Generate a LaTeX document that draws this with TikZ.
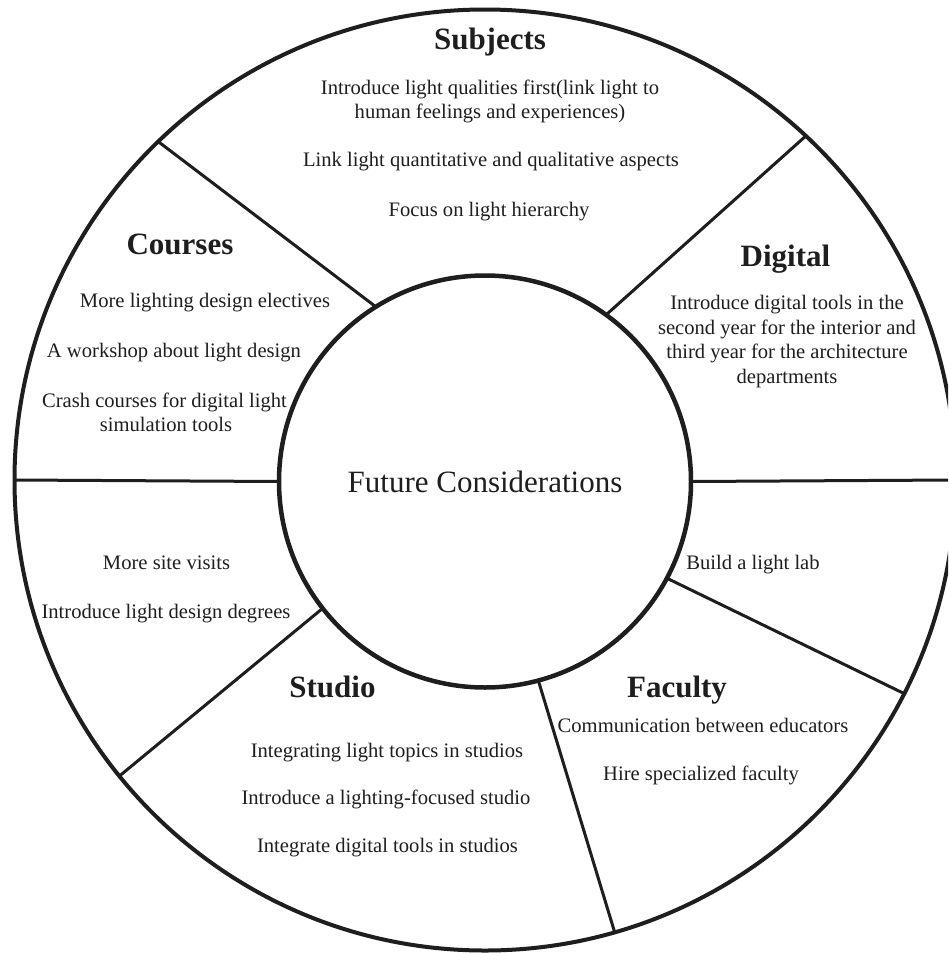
\documentclass[tikz,border=0pt]{standalone}
\usepackage{fontspec}
\setmainfont{Liberation Serif}
\definecolor{ink}{HTML}{1E1E1E}
\newcommand{\bodysize}{\fontsize{20.6}{24.5}\selectfont}
\newcommand{\headsize}{\fontsize{31}{36}\selectfont\bfseries}
\newcommand{\hubsize}{\fontsize{31}{36}\selectfont}
\begin{document}
\begin{tikzpicture}[x=1pt,y=-1pt,
  ring/.style={circle, draw=ink, outer sep=0pt, inner sep=0pt},
  divider/.style={draw=ink, line width=3pt},
  item/.style={anchor=base, inner sep=0pt, text=ink, font=\bodysize},
  heading/.style={anchor=base, inner sep=0pt, text=ink, font=\headsize}]
\useasboundingbox (0,0) rectangle (948,953);
\fill[white] (0,0) rectangle (948,953);
\clip (0,0) rectangle (948,953);

% outer rim and central hub
\node[ring, line width=4pt, minimum size=941pt] (rim) at (485,480) {};
\node[ring, line width=4.5pt, minimum size=412pt, font=\hubsize, text=ink] (hub) at (485,481.5) {Future Considerations};

% sector dividers
\draw[divider] (hub.122.7) -- (rim.134.4);
\draw[divider] (hub.54.3)  -- (rim.47.9);
\draw[divider] (hub.180.7) -- (rim.180.5);
\draw[divider] (hub.-0.7)  -- (rim.-0.5);
\draw[divider] (hub.-28.8) -- (rim.-27.7);
\draw[divider] (hub.218.9) -- (rim.219.7);
\draw[divider] (hub.-75.5) -- (rim.-74.0);

% Subjects
\node[heading] (subj) at (490,49) {Subjects};
\node[item] (subj1a) at (490,94) {Introduce light qualities first(link light to};
\node[item] (subj1b) at (490,118.5) {human feelings and experiences)};
\node[item] (subj2) at (491,166.5) {Link light quantitative and qualitative aspects};
\node[item] (subj3) at (489,216) {Focus on light hierarchy};

% Courses
\node[heading] (crs) at (180,254) {Courses};
\node[item] (crs1) at (205,307) {More lighting design electives};
\node[item] (crs2) at (174,357) {A workshop about light design};
\node[item] (crs3a) at (164.5,407) {Crash courses for digital light};
\node[item] (crs3b) at (166,431.5) {simulation tools};

% Digital
\node[heading] (dig) at (785.5,266) {Digital};
\node[item] (dig1) at (787,309.5) {Introduce digital tools in the};
\node[item] (dig2) at (787,334) {second year for the interior and};
\node[item] (dig3) at (787,358.5) {third year for the architecture};
\node[item] (dig4) at (787,383) {departments};

% left lower sector
\node[item] (oth1) at (166.5,569) {More site visits};
\node[item] (oth2) at (166,618) {Introduce light design degrees};

% right lower sector
\node[item] (lab) at (753,569) {Build a light lab};

% Studio
\node[heading] (std) at (332.5,697) {Studio};
\node[item] (std1) at (387,757) {Integrating light topics in studios};
\node[item] (std2) at (386,804) {Introduce a lighting-focused studio};
\node[item] (std3) at (387.5,852) {Integrate digital tools in studios};

% Faculty
\node[heading] (fac) at (677,697) {Faculty};
\node[item] (fac1) at (703,732) {Communication between educators};
\node[item] (fac2) at (701,780) {Hire specialized faculty};
\end{tikzpicture}
\end{document}
